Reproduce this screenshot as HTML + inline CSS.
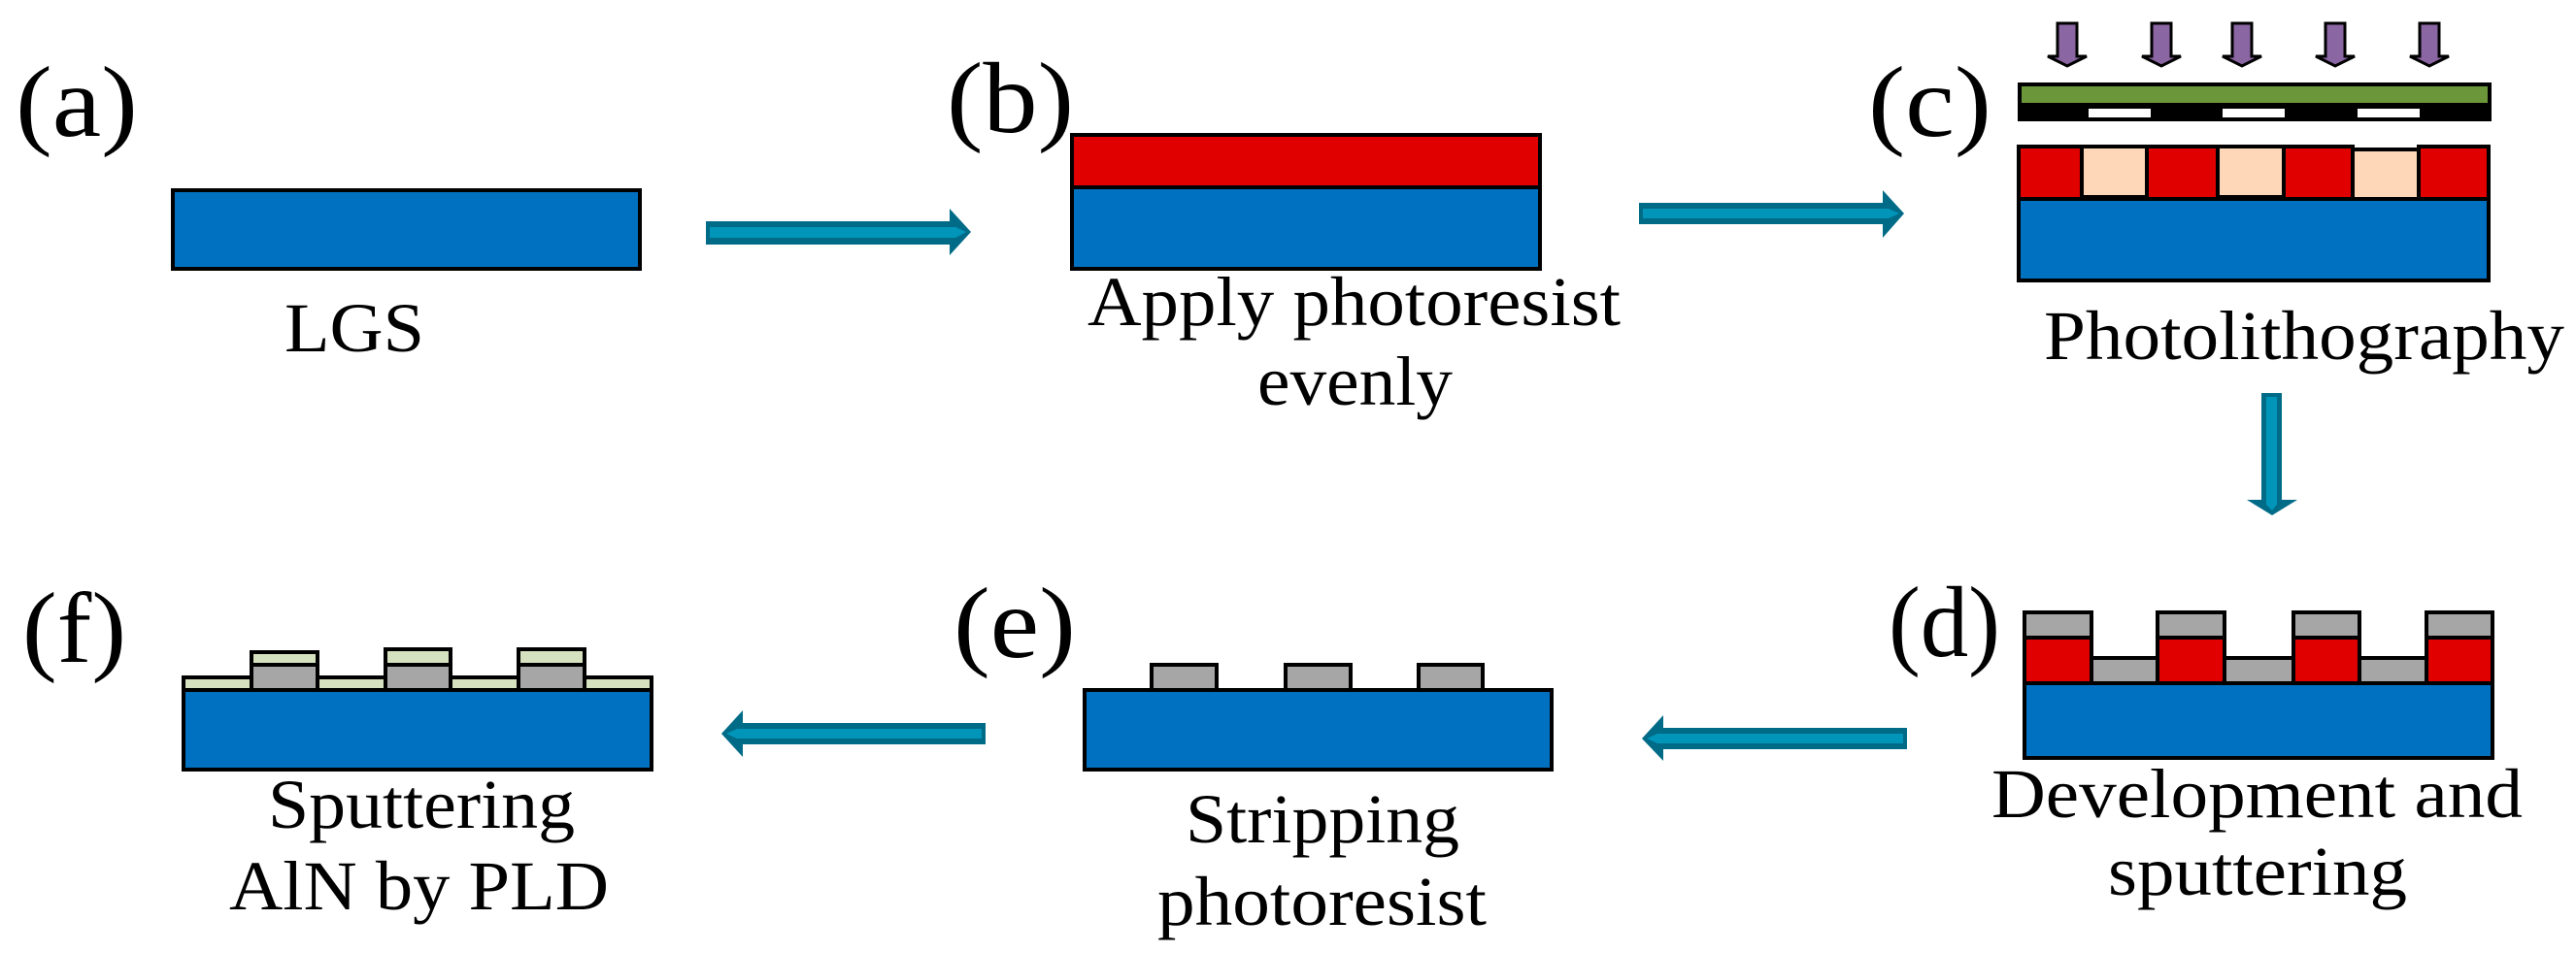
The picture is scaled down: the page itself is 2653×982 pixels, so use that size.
<!DOCTYPE html>
<html><head><meta charset="utf-8"><style>
html,body{margin:0;padding:0;background:#fff;}
svg{display:block;}
</style></head><body>
<svg width="2653" height="982" viewBox="0 0 2653 982" xmlns="http://www.w3.org/2000/svg" font-family="'Liberation Serif','Times New Roman',Times,'Nimbus Roman',serif">
<defs>
<g id="pa"><polygon points="-10,24 10,24 10,58 20,58 0,68 -20,58 -10,58" fill="#8a66a3" stroke="#000" stroke-width="3"/></g>
</defs>
<g font-size="104" fill="#000">
<text x="16" y="140" textLength="126" lengthAdjust="spacingAndGlyphs">(a)</text>
<text x="975" y="136" textLength="131" lengthAdjust="spacingAndGlyphs">(b)</text>
<text x="1924" y="140" textLength="127" lengthAdjust="spacingAndGlyphs">(c)</text>
<text x="1945" y="676" textLength="115" lengthAdjust="spacingAndGlyphs">(d)</text>
<text x="982" y="677" textLength="126" lengthAdjust="spacingAndGlyphs">(e)</text>
<text x="23" y="682" textLength="107" lengthAdjust="spacingAndGlyphs">(f)</text>
</g>
<g font-size="72" fill="#000">
<text x="293" y="362" textLength="144" lengthAdjust="spacingAndGlyphs">LGS</text>
<text x="1120" y="335" textLength="549" lengthAdjust="spacingAndGlyphs">Apply photoresist</text>
<text x="1295" y="417" textLength="201" lengthAdjust="spacingAndGlyphs">evenly</text>
<text x="2105" y="370" textLength="536" lengthAdjust="spacingAndGlyphs">Photolithography</text>
<text x="2051" y="842" textLength="547" lengthAdjust="spacingAndGlyphs">Development and</text>
<text x="2171" y="922" textLength="308" lengthAdjust="spacingAndGlyphs">sputtering</text>
<text x="1221" y="868" textLength="282" lengthAdjust="spacingAndGlyphs">Stripping</text>
<text x="1192" y="953" textLength="339" lengthAdjust="spacingAndGlyphs">photoresist</text>
<text x="276" y="853" textLength="316" lengthAdjust="spacingAndGlyphs">Sputtering</text>
<text x="236" y="937" textLength="391" lengthAdjust="spacingAndGlyphs">AlN by PLD</text>
</g>
<g stroke="#000" stroke-width="4">
<rect x="178" y="196" width="481" height="81" fill="#0070c0"/>
<rect x="1104" y="139" width="482" height="54" fill="#e00000"/>
<rect x="1104" y="193" width="482" height="84" fill="#0070c0"/>
<rect x="2080" y="87" width="484" height="21" fill="#6b963a"/>
<rect x="2080" y="108" width="484" height="15" fill="#000"/>
<rect x="2079" y="151" width="65" height="54" fill="#e00000"/>
<rect x="2144" y="151" width="67" height="52" fill="#fdd7b8"/>
<rect x="2211" y="151" width="73" height="54" fill="#e00000"/>
<rect x="2284" y="151" width="68" height="52" fill="#fdd7b8"/>
<rect x="2352" y="151" width="71" height="54" fill="#e00000"/>
<rect x="2423" y="154" width="68" height="51" fill="#fdd7b8"/>
<rect x="2491" y="151" width="72" height="54" fill="#e00000"/>
<rect x="2079" y="205" width="484" height="84" fill="#0070c0"/>
<rect x="2085" y="704" width="482" height="77" fill="#0070c0"/>
<rect x="2154" y="678" width="68" height="26" fill="#a6a6a6"/>
<rect x="2291" y="678" width="71" height="26" fill="#a6a6a6"/>
<rect x="2430" y="678" width="69" height="26" fill="#a6a6a6"/>
<rect x="2085" y="657" width="69" height="47" fill="#e00000"/>
<rect x="2222" y="657" width="69" height="47" fill="#e00000"/>
<rect x="2362" y="657" width="68" height="47" fill="#e00000"/>
<rect x="2499" y="657" width="68" height="47" fill="#e00000"/>
<rect x="2085" y="631" width="69" height="26" fill="#a6a6a6"/>
<rect x="2222" y="631" width="69" height="26" fill="#a6a6a6"/>
<rect x="2362" y="631" width="68" height="26" fill="#a6a6a6"/>
<rect x="2499" y="631" width="68" height="26" fill="#a6a6a6"/>
<rect x="1186" y="685" width="67" height="26" fill="#a6a6a6"/>
<rect x="1324" y="685" width="67" height="26" fill="#a6a6a6"/>
<rect x="1461" y="685" width="66" height="26" fill="#a6a6a6"/>
<rect x="1117" y="711" width="481" height="82" fill="#0070c0"/>
<rect x="189" y="698" width="482" height="13" fill="#d6e2bf"/>
<rect x="259" y="685" width="68" height="26" fill="#a6a6a6"/>
<rect x="397" y="685" width="67" height="26" fill="#a6a6a6"/>
<rect x="534" y="685" width="68" height="26" fill="#a6a6a6"/>
<rect x="259" y="672" width="68" height="13" fill="#d6e2bf"/>
<rect x="397" y="669" width="67" height="16" fill="#d6e2bf"/>
<rect x="534" y="669" width="68" height="16" fill="#d6e2bf"/>
<rect x="189" y="711" width="482" height="82" fill="#0070c0"/>
</g>
<g fill="#fff">
<rect x="2151" y="112" width="64" height="9"/>
<rect x="2289" y="112" width="64" height="9"/>
<rect x="2428" y="112" width="64" height="9"/>
</g>
<use href="#pa" x="2129"/><use href="#pa" x="2226"/><use href="#pa" x="2309"/><use href="#pa" x="2405"/><use href="#pa" x="2502"/>
<g fill="#006b87">
<polygon points="727,228 978,228 978,215 1000,239 978,263 978,252 727,252"/>
<polygon points="1688,209 1939,209 1939,196 1961,220 1939,245 1939,231 1688,231"/>
<polygon points="1964,750 1713,750 1713,737 1691,761 1713,784 1713,772 1964,772"/>
<polygon points="1015,745 765,745 765,732 743,756 765,780 765,767 1015,767"/>
<polygon points="2329,405 2350,405 2350,515 2366,515 2340,531 2314,515 2329,515"/>
</g>
<g fill="#0095b9">
<polygon points="731,234 984,234 995,239 984,245 731,245"/>
<polygon points="1692,215 1945,215 1956,220 1945,225 1692,225"/>
<polygon points="1960,756 1707,756 1696,761 1707,766 1960,766"/>
<polygon points="1011,751 759,751 748,756 759,761 1011,761"/>
<polygon points="2334,409 2345,409 2345,520 2340,526 2334,520"/>
</g>
</svg>
</body></html>
